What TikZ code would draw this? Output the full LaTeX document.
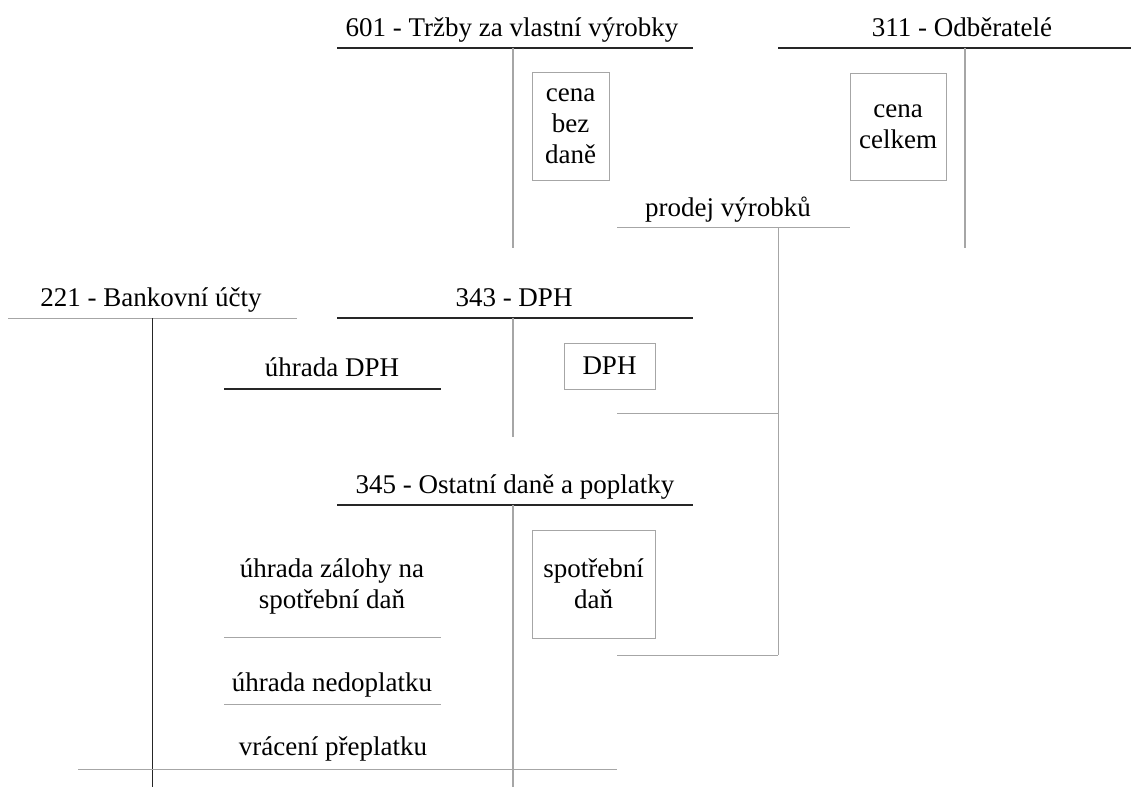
\documentclass[tikz,border=0pt]{standalone}
\usepackage{fontspec}
\setmainfont{Liberation Serif}
\usepackage{tikz}

\tikzset{
  title/.style={font=\fontsize{27}{31}\selectfont, inner sep=0pt, anchor=base},
  label/.style={font=\fontsize{27}{31}\selectfont, inner sep=0pt, align=center},
  amount/.style={draw=gray!70, line width=0.6pt, font=\fontsize{27}{31}\selectfont, align=center, inner sep=0pt},
  headline/.style={line width=1.2pt, black!85},
  stem/.style={line width=1.4pt, gray!70},
  thin/.style={line width=0.8pt, gray!70}
}

\begin{document}
\begin{tikzpicture}[x=1pt,y=-1pt]
        \useasboundingbox (0,0) rectangle (1131,787);

        % account 601 (top middle)
        \node[title] (t601) at (512,36) {601 - Tržby za vlastní výrobky};
        \coordinate (h601l) at (337,48);
        \coordinate (h601r) at (693,48);
        \coordinate (v601t) at (513,48);
        \coordinate (v601b) at (513,248);
        \draw[headline] (h601l) -- (h601r);
        \draw[stem] (v601t) -- (v601b);
        \node[amount, minimum width=77pt, minimum height=108pt] (cbd) at (570.5,126) {cena\\bez\\daně};

        % account 311 (top right)
        \node[title] (t311) at (962,36) {311 - Odběratelé};
        \coordinate (h311l) at (778,48);
        \coordinate (h311r) at (1131,48);
        \coordinate (v311t) at (965,48);
        \coordinate (v311b) at (965,248);
        \draw[headline] (h311l) -- (h311r);
        \draw[stem] (v311t) -- (v311b);
        \node[amount, minimum width=96pt, minimum height=107pt] (cc) at (898,126.5) {cena\\celkem};

        % sale of products, bracket into 343 and 345
        \node[title] (prodej) at (728,216) {prodej výrobků};
        \coordinate (pl) at (617,227);
        \coordinate (pr) at (850,227);
        \coordinate (pv) at (778,227);
        \coordinate (pd) at (778,413);
        \coordinate (pe) at (778,655);
        \coordinate (dl) at (617,413);
        \coordinate (el) at (617,655);
        \draw[thin] (pl) -- (pr);
        \draw[thin] (pv) -- (pe);
        \draw[thin] (dl) -- (pd);
        \draw[thin] (el) -- (pe);

        % account 221 (left)
        \node[title] (t221) at (151,306) {221 - Bankovní účty};
        \coordinate (h221l) at (8,318);
        \coordinate (h221r) at (297,318);
        \coordinate (v221t) at (152,318);
        \coordinate (v221b) at (152,787);
        \draw[thin] (h221l) -- (h221r);
        \draw[line width=1pt, black!85] (v221t) -- (v221b);

        % account 343
        \node[title] (t343) at (514,306) {343 - DPH};
        \coordinate (h343l) at (337,318);
        \coordinate (h343r) at (693,318);
        \coordinate (v343t) at (513,318);
        \coordinate (v343b) at (513,437);
        \draw[headline] (h343l) -- (h343r);
        \draw[stem] (v343t) -- (v343b);
        \node[amount, minimum width=91pt, minimum height=46pt] (dph) at (609.5,366) {DPH};

        % paying VAT
        \node[title] (uhdph) at (332,376) {úhrada DPH};
        \coordinate (ul) at (224,389);
        \coordinate (ur) at (441,389);
        \draw[headline] (ul) -- (ur);

        % account 345
        \node[title] (t345) at (515,493) {345 - Ostatní daně a poplatky};
        \coordinate (h345l) at (337,505);
        \coordinate (h345r) at (693,505);
        \coordinate (v345t) at (513,505);
        \coordinate (v345b) at (513,787);
        \draw[headline] (h345l) -- (h345r);
        \draw[stem] (v345t) -- (v345b);
        \node[amount, minimum width=123pt, minimum height=108pt] (sd) at (593.5,584) {spotřební\\daň};

        % payments on the left side of 345
        \node[label] (zal) at (332,586) {úhrada zálohy na\\spotřební daň};
        \coordinate (zl) at (224,637);
        \coordinate (zr) at (441,637);
        \draw[thin] (zl) -- (zr);

        \node[title] (ned) at (332,691) {úhrada nedoplatku};
        \coordinate (nl) at (224,704);
        \coordinate (nr) at (441,704);
        \draw[thin] (nl) -- (nr);

        \node[title] (vrac) at (333,755) {vrácení přeplatku};
        \coordinate (vl) at (78,769);
        \coordinate (vr) at (617,769);
        \draw[thin] (vl) -- (vr);

      \end{tikzpicture}
\end{document}
